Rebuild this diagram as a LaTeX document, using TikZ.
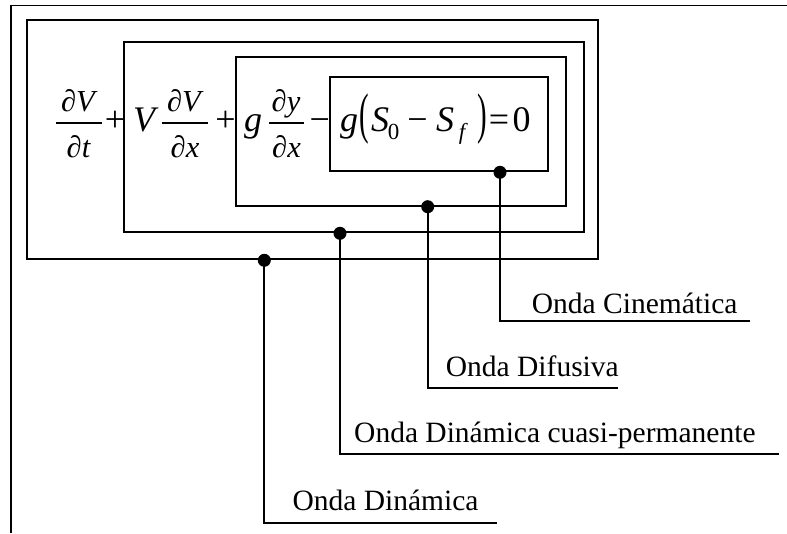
\documentclass[tikz,border=0pt]{standalone}
\usepackage{fontspec}
\usepackage{graphicx}
\setmainfont{Liberation Serif}
\usetikzlibrary{fit}
\tikzset{
  eqm/.style={inner sep=0, anchor=base, font=\fontsize{36}{40}\selectfont},
  eqi/.style={inner sep=0, anchor=base, font=\fontsize{36}{40}\selectfont\itshape},
  eqf/.style={inner sep=0, anchor=base, font=\fontsize{30.5}{34}\selectfont\itshape},
  eqs/.style={inner sep=0, anchor=base, font=\fontsize{23}{26}\selectfont},
  box/.style={draw, line width=2pt, inner sep=0},
  dotn/.style={circle, fill, inner sep=0, minimum size=13pt},
  conn/.style={line width=2pt},
  lbl/.style={inner sep=0, anchor=base west, font=\fontsize{29.5}{34}\selectfont},
  fbar/.style={line width=2.2pt},
}
\begin{document}
\begin{tikzpicture}[x=1pt,y=-1pt]
\useasboundingbox (0,0) rectangle (787,533);
% outer frame (cropped)
\draw[line width=1.6pt] (10.7,533) -- (10.7,5.3) -- (787,5.3);
% nested boxes
\node[box, fit={(26.7,20) (598.3,259.3)}] (b1) {};
\node[box, fit={(124.3,42.3) (584,232.3)}] (b2) {};
\node[box, fit={(235.7,56.7) (565.7,205.7)}] (b3) {};
\node[box, fit={(330,76.7) (547.7,171.3)}] (b4) {};
% equation
\node[eqf] (n1) at (78,111) {∂V};
\draw[fbar] (55.7,123.3) -- (102.3,123.3);
\node[eqf] (d1) at (78.5,157.5) {∂t};
\node[eqm] (pl1) at (115,131) {+};
\node[eqi] (v1) at (144,131) {V};
\node[eqf] (n2) at (184,111) {∂V};
\draw[fbar] (161.7,123.3) -- (208.3,123.3);
\node[eqf] (d2) at (185,157.5) {∂x};
\node[eqm] (pl2) at (225.5,131) {+};
\node[eqi] (g1) at (253,131) {g};
\node[eqf] (n3) at (286,111) {∂y};
\draw[fbar] (269,123.3) -- (304,123.3);
\node[eqf] (d3) at (286.5,157.5) {∂x};
\node[eqm] (mi1) at (319.7,131) {−};
\node[eqi] (g2) at (349,131) {g};
\node[inner sep=0, font=\fontsize{36}{40}\selectfont] (lp) at (364.5,119) {\scalebox{0.8}[1.55]{(}};
\node[eqi] (s1) at (380,131) {S};
\node[eqs] (z1) at (393.5,139.5) {0};
\node[eqm] (mi2) at (417.5,131) {−};
\node[eqi] (s2) at (445,131) {S};
\node[eqs, font=\fontsize{23}{26}\selectfont\itshape] (f1) at (462,139.5) {f};
\node[inner sep=0, font=\fontsize{36}{40}\selectfont] (rp) at (482.5,119) {\scalebox{0.8}[1.55]{)}};
\node[eqm] (eq) at (499,131) {=};
\node[eqm] (zr) at (521.5,131) {0};
% tap points
\node[dotn] (p1) at (b1.south -| 264.3,0) {};
\node[dotn] (p2) at (b2.south -| 340,0) {};
\node[dotn] (p3) at (b3.south -| 427.7,0) {};
\node[dotn] (p4) at (b4.south -| 500,0) {};
% line ends
\coordinate (e1) at (496.7,523.3);
\coordinate (e2) at (779,454);
\coordinate (e3) at (618.3,388.3);
\coordinate (e4) at (750,320.7);
\draw[conn] (p1.center) |- (e1);
\draw[conn] (p2.center) |- (e2);
\draw[conn] (p3.center) |- (e3);
\draw[conn] (p4.center) |- (e4);
% labels
\node[lbl] (l1) at (292.3,510) {Onda Dinámica};
\node[lbl] (l2) at (354,442) {Onda Dinámica cuasi-permanente};
\node[lbl] (l3) at (445.7,376) {Onda Difusiva};
\node[lbl] (l4) at (531.7,313.3) {Onda Cinemática};
\end{tikzpicture}
\end{document}
